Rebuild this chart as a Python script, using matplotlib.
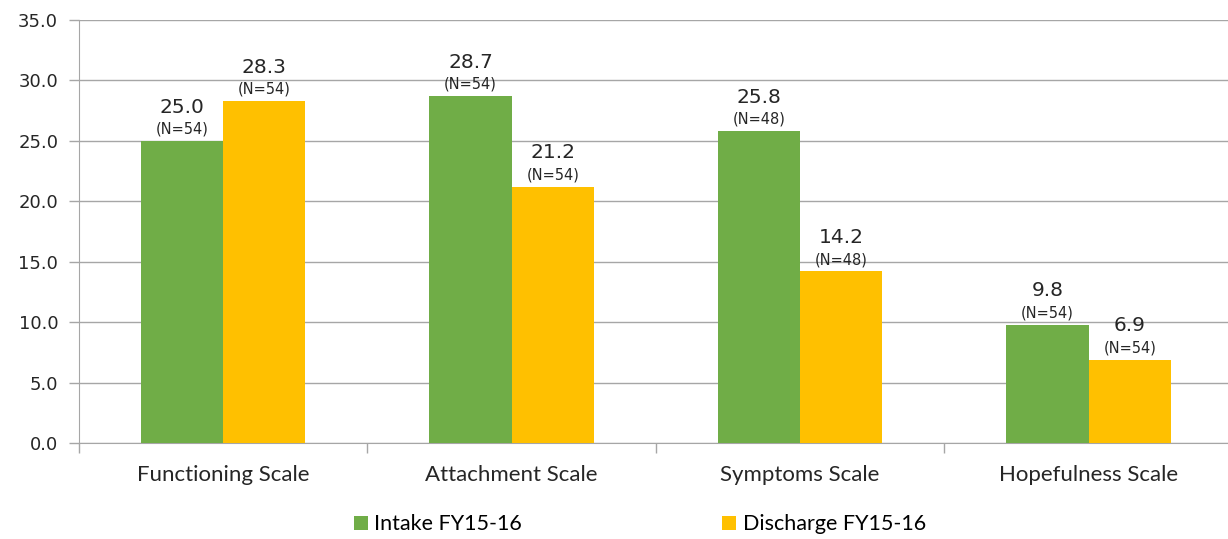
import matplotlib.pyplot as plt
import numpy as np

categories = ["Functioning Scale", "Attachment Scale", "Symptoms Scale", "Hopefulness Scale"]
intake = [25.0, 28.7, 25.8, 9.8]
discharge = [28.3, 21.2, 14.2, 6.9]
intake_n = [54, 54, 48, 54]
discharge_n = [54, 54, 48, 54]
series_names = ["Intake FY15-16", "Discharge FY15-16"]
yticks = [0, 5, 10, 15, 20, 25, 30, 35]

green = "#70AD47"
yellow = "#FFC000"
grid_gray = "#A6A6A6"
text_col = "#262626"

fig = plt.figure(figsize=(12.28, 5.39), dpi=100)
ax = fig.add_axes([0.0643, 0.178, 0.9397, 0.785])

x = np.arange(len(categories))
w = 0.285
b1 = ax.bar(x - w / 2, intake, w, color=green, label=series_names[0], zorder=3)
b2 = ax.bar(x + w / 2, discharge, w, color=yellow, label=series_names[1], zorder=3)

for bars, vals, ns in ((b1, intake, intake_n), (b2, discharge, discharge_n)):
    for rect, v, n in zip(bars, vals, ns):
        cx = rect.get_x() + rect.get_width() / 2
        ax.annotate(f"(N={n})", (cx, v), xytext=(0, 3), textcoords="offset points",
                    ha="center", va="bottom", fontsize=10.5, color=text_col)
        ax.annotate(f"{v:.1f}", (cx, v), xytext=(0, 17.5), textcoords="offset points",
                    ha="center", va="bottom", fontsize=14.5, color=text_col)

ax.set_ylim(0, 35)
ax.set_xlim(-0.5, len(categories) - 0.5)
ax.set_yticks(yticks)
ax.set_yticklabels([f"{t:.1f}" for t in yticks], fontsize=13, color=text_col)
ax.yaxis.grid(True, color=grid_gray, linewidth=1, zorder=0)

# category labels centred, tick marks at category boundaries
ax.set_xticks(x)
ax.set_xticklabels(categories, fontsize=16, family="Lato", color=text_col)
ax.tick_params(axis="x", length=0, pad=16)
ax.set_xticks(np.arange(len(categories) + 1) - 0.5, minor=True)
ax.tick_params(axis="x", which="minor", length=7, color=grid_gray, width=1)
ax.tick_params(axis="y", length=7, color=grid_gray, width=1, pad=8)

for side in ("top", "right"):
    ax.spines[side].set_visible(False)
for side in ("left", "bottom"):
    ax.spines[side].set_color(grid_gray)

fig.legend(loc="center", bbox_to_anchor=(0.521, 0.027), ncol=2, frameon=False,
           handlelength=0.65, handleheight=0.65, handletextpad=0.3, columnspacing=9.3,
           prop={"family": "Lato", "size": 15.5})

fig.savefig("out.png", dpi=100)
